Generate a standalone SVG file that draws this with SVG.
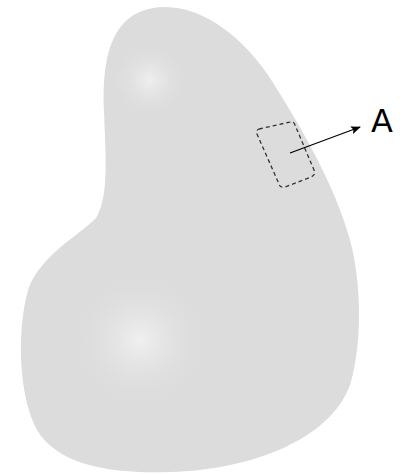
<svg xmlns="http://www.w3.org/2000/svg" width="404" height="474" viewBox="0 0 404 474">
<defs>
<radialGradient id="h1" cx="150" cy="80" r="40" gradientUnits="userSpaceOnUse">
<stop offset="0" stop-color="#efefef"/><stop offset="1" stop-color="#dcdcdc" stop-opacity="0"/>
</radialGradient>
<radialGradient id="h2" cx="140" cy="340" r="70" gradientUnits="userSpaceOnUse">
<stop offset="0" stop-color="#f0f0f0"/><stop offset="1" stop-color="#dcdcdc" stop-opacity="0"/>
</radialGradient>
<marker id="ah" markerWidth="10" markerHeight="8" refX="9" refY="4" orient="auto" markerUnits="userSpaceOnUse">
<path d="M0,0 L10,4 L0,8 L2,4 Z" fill="#000"/>
</marker>
<clipPath id="cp"><path id="bp" d="M163,7 C205,6 245,40 270,78 C300,125 335,185 350,240 C362,285 362,345 350,385 C330,440 250,470 170,472 C110,474 58,465 37,430 C18,395 17,330 28,290 C40,255 80,235 96,218 C110,195 105,150 104,110 C102,55 112,9 163,7 Z"/></clipPath>
</defs>
<rect width="404" height="474" fill="#fff"/>
<g id="shape">
<use href="#bp" fill="#dcdcdc"/>
<g clip-path="url(#cp)">
<ellipse cx="150" cy="80" rx="40" ry="60" fill="url(#h1)"/>
<circle cx="140" cy="340" r="70" fill="url(#h2)"/>
</g>
</g>
<g id="region">
<path d="M259,129 L290,122 Q294,121 295,125 L314,170 Q316,175 311,177 L285,187 Q280,188 279,184 L257,134 Q256,130 259,129 Z" fill="none" stroke="#333" stroke-width="1.3" stroke-dasharray="4,3"/>
</g>
<g id="connectors">
<line x1="290" y1="153" x2="360" y2="127" stroke="#000" stroke-width="1.3" marker-end="url(#ah)"/>
</g>
<g id="label">
<text x="371" y="132" font-family="DejaVu Sans, sans-serif" font-size="32" fill="#000">A</text>
</g>
</svg>
